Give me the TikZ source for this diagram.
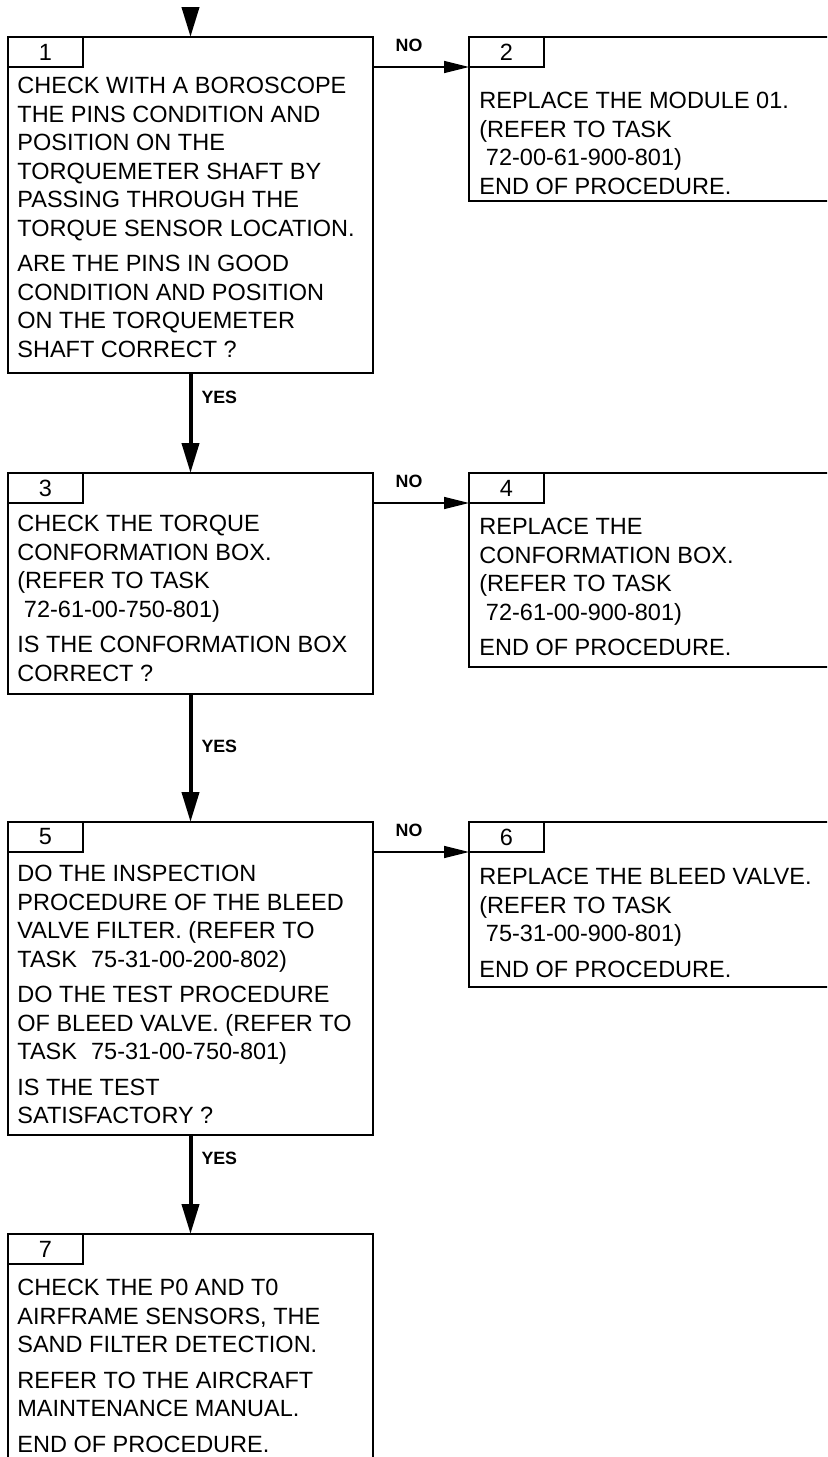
\documentclass[tikz,border=0pt]{standalone}
\usepackage{fontspec}
\setmainfont{Liberation Sans}
\usetikzlibrary{arrows.meta,positioning}
\newcommand{\pgap}{3.5pt}
\tikzset{
  stepbox/.style={draw, line width=1pt, rectangle, anchor=north west, inner sep=0pt, outer sep=0pt},
  numtab/.style={stepbox, minimum width=37.5pt, minimum height=15pt,
                 font=\fontsize{11.75}{14.25}\selectfont},
  boxtext/.style={anchor=north west, yshift=9.975pt, align=left, inner sep=0pt,
                  font=\fontsize{11.75}{14.25}\selectfont, execute at begin node=\strut},
  yesarr/.style={-{Triangle[length=15pt, width=8.5pt]}, line width=2pt},
  noarr/.style={-{Triangle[length=12.5pt, width=6pt]}, line width=0.8pt},
  lbl/.style={font=\fontsize{8.9}{10}\selectfont\bfseries, inner sep=0pt},
}

\begin{document}
\begin{tikzpicture}[x=0.5pt, y=-0.5pt]
  % page is 827 x 1457 px, one unit = one px
  \useasboundingbox (0,0) rectangle (827,1457);
  \clip (0,0) rectangle (827,1457);
  \newcommand{\stepcell}[5]{% number, left, top, width, height
    \node[stepbox, minimum width=#4*0.5pt, minimum height=#5*0.5pt] (b#1) at (#2,#3) {};
    \node[numtab] (t#1) at (#2,#3) {#1};}
  \stepcell{1}{8}{37}{365}{336}
  \stepcell{2}{469}{37}{440}{164}
  \stepcell{3}{8}{473}{365}{221}
  \stepcell{4}{469}{473}{440}{194}
  \stepcell{5}{8}{822}{365}{313}
  \stepcell{6}{469}{822}{440}{165}
  \stepcell{7}{8}{1234}{365}{300}

  % texts, placed at the first baseline
  \node[boxtext] (x1) at (17,97) {CHECK WITH A BOROSCOPE\\THE PINS CONDITION AND\\POSITION ON THE\\TORQUEMETER SHAFT BY\\PASSING THROUGH THE\\TORQUE SENSOR LOCATION.\\[\pgap]ARE THE PINS IN GOOD\\CONDITION AND POSITION\\ON THE TORQUEMETER\\SHAFT CORRECT ?};
  \node[boxtext] (x2) at (479,112) {REPLACE THE MODULE 01.\\(REFER TO TASK\\\hspace*{.28em}72-00-61-900-801)\\END OF PROCEDURE.};
  \node[boxtext] (x3) at (17,535) {CHECK THE TORQUE\\CONFORMATION BOX.\\(REFER TO TASK\\\hspace*{.28em}72-61-00-750-801)\\[\pgap]IS THE CONFORMATION BOX\\CORRECT ?};
  \node[boxtext] (x4) at (479,538) {REPLACE THE\\CONFORMATION BOX.\\(REFER TO TASK\\\hspace*{.28em}72-61-00-900-801)\\[\pgap]END OF PROCEDURE.};
  \node[boxtext] (x5) at (17,885) {DO THE INSPECTION\\PROCEDURE OF THE BLEED\\VALVE FILTER. (REFER TO\\TASK\hspace{.6em}75-31-00-200-802)\\[\pgap]DO THE TEST PROCEDURE\\OF BLEED VALVE. (REFER TO\\TASK\hspace{.6em}75-31-00-750-801)\\[\pgap]IS THE TEST\\SATISFACTORY ?};
  \node[boxtext] (x6) at (479,888) {REPLACE THE BLEED VALVE.\\(REFER TO TASK\\\hspace*{.28em}75-31-00-900-801)\\[\pgap]END OF PROCEDURE.};
  \node[boxtext] (x7) at (17,1299) {CHECK THE P0 AND T0\\AIRFRAME SENSORS, THE\\SAND FILTER DETECTION.\\[\pgap]REFER TO THE AIRCRAFT\\MAINTENANCE MANUAL.\\[\pgap]END OF PROCEDURE.};

  % flow
  \coordinate (entry) at ([yshift=15pt]b1.north);
  \draw[yesarr] (entry) -- (b1.north);
  \draw[yesarr] (b1.south) -- (b3.north) node[lbl, pos=.24, anchor=west, xshift=4.5pt] {YES};
  \draw[yesarr] (b3.south) -- (b5.north) node[lbl, pos=.41, anchor=west, xshift=4.5pt] {YES};
  \draw[yesarr] (b5.south) -- (b7.north) node[lbl, pos=.24, anchor=west, xshift=4.5pt] {YES};
  \draw[noarr] (b1.east |- t2.south west) -- (t2.south west) node[lbl, pos=.375, anchor=south, yshift=7.5pt] {NO};
  \draw[noarr] (b3.east |- t4.south west) -- (t4.south west) node[lbl, pos=.375, anchor=south, yshift=7.5pt] {NO};
  \draw[noarr] (b5.east |- t6.south west) -- (t6.south west) node[lbl, pos=.375, anchor=south, yshift=7.5pt] {NO};
\end{tikzpicture}
\end{document}
